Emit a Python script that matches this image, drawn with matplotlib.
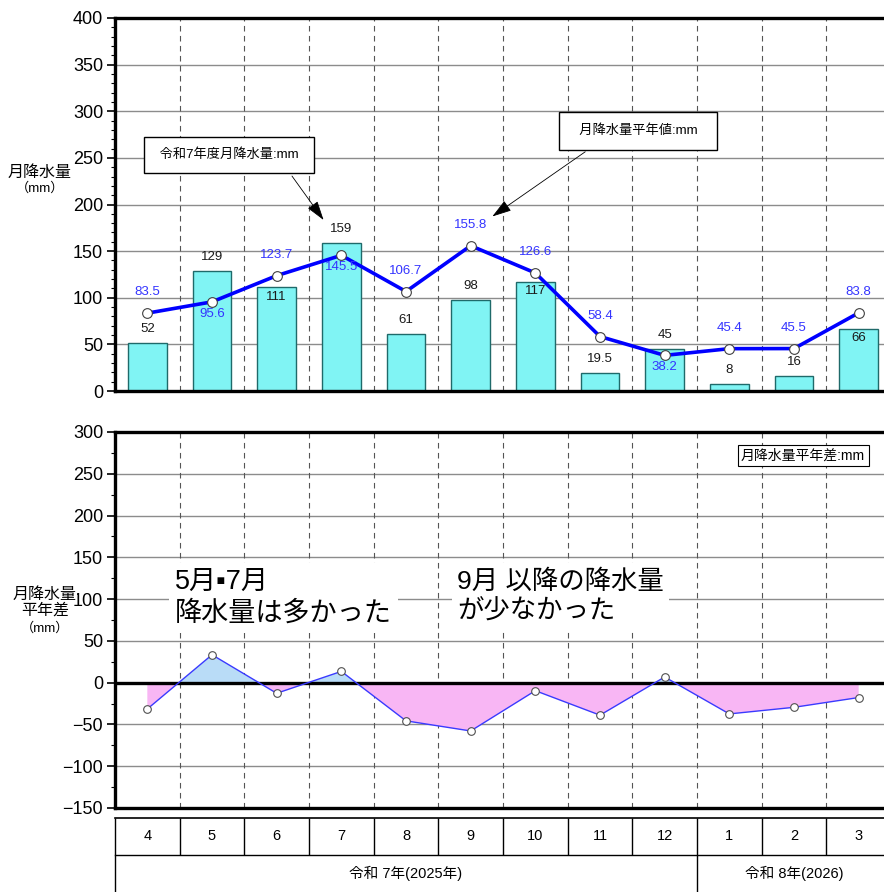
import numpy as np
import matplotlib.pyplot as plt
from matplotlib.ticker import MultipleLocator

plt.rcParams['font.family'] = ['Liberation Sans', 'Noto Sans CJK JP', 'DejaVu Sans']

# monthly rainfall, April 2025 - March 2026 (mm)
months = ['4', '5', '6', '7', '8', '9', '10', '11', '12', '1', '2', '3']
rain_2025 = [52, 129, 111, 159, 61, 98, 117, 19.5, 45, 8, 16, 66]
rain_normal = [83.5, 95.6, 123.7, 145.5, 106.7, 155.8, 126.6, 58.4, 38.2, 45.4, 45.5, 83.8]
rain_anomaly = [-31.5, 33.4, -12.7, 13.5, -45.7, -57.8, -9.6, -38.9, 6.8, -37.4, -29.5, -17.8]
year_labels = ['令和 7年(2025年)', '令和 8年(2026)']
year_first_month = [0, 9]
year_last_month = [8, 11]

# value label placement: 1 = above the mark, -1 = below
rain_label_side = [1, 1, -1, 1, 1, 1, -1, 1, 1, 1, 1, -1]
normal_label_side = [1, -1, 1, -1, 1, 1, 1, 1, -1, 1, 1, 1]

W, H = 884, 892
fig = plt.figure(figsize=(W / 100, H / 100), dpi=100)


def px_axes(left, top, right, bottom):
    return fig.add_axes([left / W, 1 - bottom / H, (right - left) / W, (bottom - top) / H])


def style_axes(ax, ymin, ymax, major, minor):
    ax.set_xlim(-0.5, 11.5)
    ax.set_ylim(ymin, ymax)
    ax.yaxis.set_major_locator(MultipleLocator(major))
    ax.yaxis.set_minor_locator(MultipleLocator(minor))
    ax.tick_params(axis='y', which='major', direction='out', length=5.5, width=1.2,
                   labelsize=13, pad=3)
    ax.tick_params(axis='y', which='minor', direction='out', length=3, width=0.8)
    ax.tick_params(axis='x', bottom=False, labelbottom=False)
    for s in ax.spines.values():
        s.set_linewidth(2.4)
    for y in np.arange(ymin + major, ymax, major):
        if y != 0:
            ax.axhline(y, color='#8c8c8c', lw=1, zorder=0)
    for b in np.arange(0.5, 11.5, 1):
        ax.axvline(b, color='#555555', lw=0.8, ls=(0, (5, 4)), zorder=0)


ax1 = px_axes(115, 18, 891, 391)
ax2 = px_axes(115, 432, 891, 808)
ax3 = px_axes(115, 818, 891, 892)

x = np.arange(len(months))

# --- monthly rainfall vs normal ---
style_axes(ax1, 0, 400, 50, 10)
ax1.bar(x, rain_2025, width=0.6, color='#80f4f4', edgecolor='#1f6a6a', lw=1, zorder=2)
ax1.plot(x, rain_normal, color='#0000ff', lw=2.6, marker='o', ms=7, mfc='white',
         mec='#404040', mew=0.8, zorder=4)

for xi, v, side in zip(x, rain_2025, rain_label_side):
    ax1.annotate(f'{v:g}', (xi, v), xytext=(0, 10 if side > 0 else -6.5),
                 textcoords='offset points', ha='center', va='center',
                 fontsize=9.5, color='#1a1a1a', zorder=5)
for xi, v, side in zip(x, rain_normal, normal_label_side):
    ax1.annotate(f'{v:.1f}', (xi, v), xytext=(0, 15 if side > 0 else -8.5),
                 textcoords='offset points', ha='center', va='center',
                 fontsize=9.5, color='#3434ff', zorder=5)

arrow = dict(arrowstyle='-|>,head_length=0.8,head_width=0.25', color='black',
             lw=0.6, mutation_scale=15)
ax1.annotate(' 令和7年度月降水量:mm ', xy=(2.75, 181), xytext=(1.26, 253),
             ha='center', va='center', fontsize=9.5, zorder=6,
             bbox=dict(boxstyle='square,pad=0.9', fc='white', ec='black', lw=1),
             arrowprops=dict(arrow, relpos=(0.86, 0)))
ax1.annotate('  月降水量平年値:mm  ', xy=(5.3, 185.5), xytext=(7.59, 279),
             ha='center', va='center', fontsize=9.5, zorder=6,
             bbox=dict(boxstyle='square,pad=0.95', fc='white', ec='black', lw=1),
             arrowprops=dict(arrow, relpos=(0.26, 0)))

fig.text(40 / W, 1 - 172 / H, '月降水量', ha='center', va='center', fontsize=11.5)
fig.text(40 / W, 1 - 188 / H, '（mm）', ha='center', va='center', fontsize=9.5)

# --- departure from normal ---
style_axes(ax2, -150, 300, 50, 25)
anom = np.array(rain_anomaly)
ax2.fill_between(x, anom, 0, where=anom < 0, interpolate=True, color='#f8b6f4', lw=0, zorder=1)
ax2.fill_between(x, anom, 0, where=anom > 0, interpolate=True, color='#b9dcf7', lw=0, zorder=1)
ax2.axhline(0, color='black', lw=2.4, zorder=3)
ax2.plot(x, anom, color='#3a3aff', lw=1, marker='o', ms=5.5, mfc='white',
         mec='#505050', mew=0.8, zorder=4)

ax2.text(10.14, 272, '月降水量平年差:mm', ha='center', va='center', fontsize=10,
         bbox=dict(boxstyle='square,pad=0.25', fc='white', ec='black', lw=0.8), zorder=6)
ax2.text(0.43, 136, '5月▪7月\n降水量は多かった', ha='left', va='top', fontsize=19.5,
         linespacing=1.3, zorder=6, bbox=dict(fc='white', ec='none', pad=4))
ax2.text(4.79, 136, '9月 以降の降水量\nが少なかった', ha='left', va='top', fontsize=19,
         linespacing=1.3, zorder=6, bbox=dict(fc='white', ec='none', pad=4))

fig.text(45 / W, 1 - 594 / H, '月降水量', ha='center', va='center', fontsize=11.5,
         bbox=dict(fc='white', ec='none', pad=0))
fig.text(45 / W, 1 - 610 / H, '平年差', ha='center', va='center', fontsize=11.5)
fig.text(45 / W, 1 - 628 / H, '（mm）', ha='center', va='center', fontsize=9.5)

# --- month / year table ---
ax3.set_xlim(-0.5, 11.5)
ax3.set_ylim(0, 2)
ax3.axis('off')
ax3.axhline(2, color='black', lw=1.2, clip_on=False)
ax3.axhline(1, color='black', lw=1, clip_on=False)
ax3.vlines(np.arange(-0.5, 12, 1), 1, 2, color='black', lw=1, clip_on=False)
ax3.vlines([-0.5, 8.5], 0, 1, color='black', lw=1, clip_on=False)
for xi, m in zip(x, months):
    ax3.text(xi, 1.5, m, ha='center', va='center', fontsize=10.5)
for label, a, b in zip(year_labels, year_first_month, year_last_month):
    ax3.text((a + b) / 2, 0.5, label, ha='center', va='center', fontsize=10.5)

fig.savefig('out.png', dpi=100)
